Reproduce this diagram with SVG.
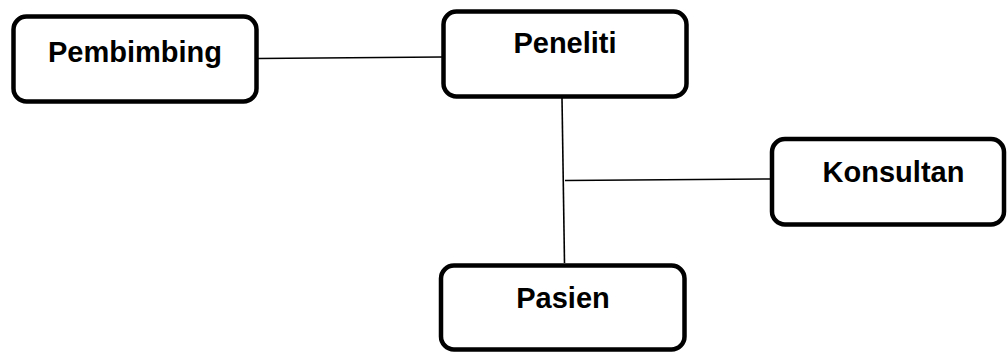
<svg xmlns="http://www.w3.org/2000/svg" width="1008" height="352" viewBox="0 0 1008 352">
<style>
.box{fill:#fff;stroke:#000;stroke-width:4.5}
.lbl{font-family:"Liberation Sans",Arial,sans-serif;font-weight:bold;font-size:29px;fill:#000;text-anchor:middle}
.con{stroke:#000;stroke-width:1.6;fill:none}
</style>
<rect width="1008" height="352" fill="#fff"/>
<g id="connectors">
<line class="con" x1="258" y1="58.5" x2="442" y2="57"/>
<line class="con" x1="562" y1="98" x2="564.5" y2="263"/>
<line class="con" x1="565" y1="180.5" x2="771" y2="179"/>
</g>
<g id="pembimbing">
<rect class="box" x="13.5" y="16.5" width="243" height="85" rx="13"/>
<text class="lbl" x="135" y="62">Pembimbing</text>
</g>
<g id="peneliti">
<rect class="box" x="443.5" y="11.5" width="243" height="85" rx="13"/>
<text class="lbl" x="565" y="53">Peneliti</text>
</g>
<g id="konsultan">
<rect class="box" x="772" y="139" width="232" height="85.5" rx="13"/>
<text class="lbl" x="893.5" y="182">Konsultan</text>
</g>
<g id="pasien">
<rect class="box" x="441" y="265.5" width="243.5" height="84" rx="13"/>
<text class="lbl" x="563" y="308">Pasien</text>
</g>
</svg>
